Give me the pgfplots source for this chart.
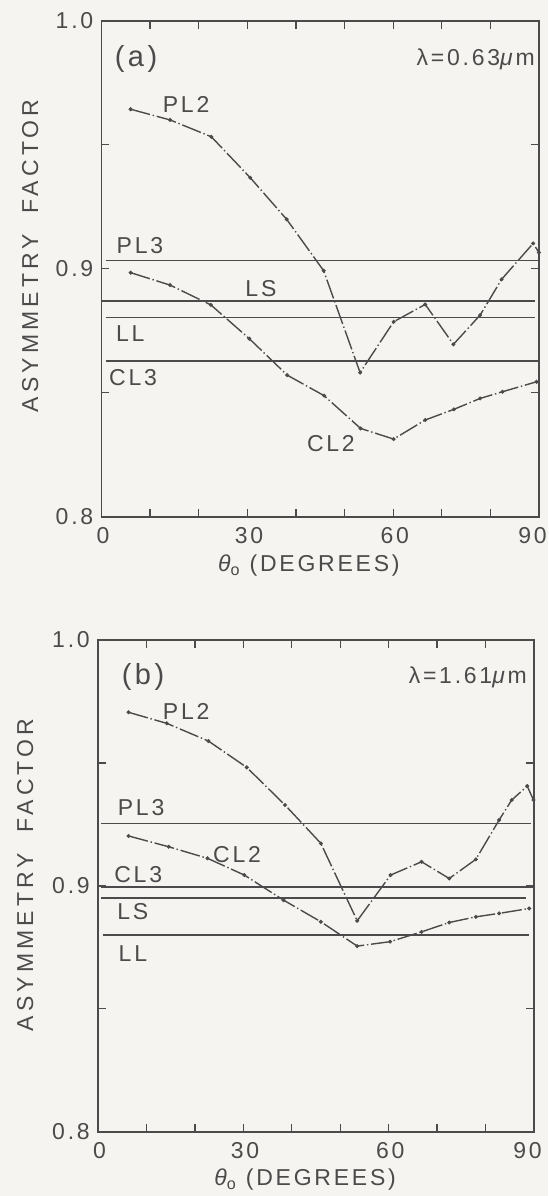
\documentclass[border=0pt]{standalone}
\usepackage{fontspec}
\setmainfont{Liberation Sans}[LetterSpace=12]
\usepackage{pgfplots}
\usepackage{pgfplotstable}
\pgfplotsset{compat=1.18}
\definecolor{ink}{RGB}{75,75,75}
\definecolor{paper}{RGB}{245,244,240}
\newcommand\pf{\fontsize{11.5}{13.8}\selectfont}
\newcommand\pfb{\fontsize{14.5}{17}\selectfont}

% ---- panel (a), lambda = 0.63 um ----
\pgfplotstableread{
x y
6.0 0.9643
14.1 0.9600
22.6 0.9532
30.6 0.9367
38.1 0.9199
45.7 0.8992
53.2 0.8581
60.1 0.8786
66.6 0.8856
72.4 0.8695
77.9 0.8813
82.3 0.8957
88.8 0.9102
90.0 0.9065
}\PLtwoA
\pgfplotstableread{
x y
6.0 0.8984
14.1 0.8934
22.5 0.8854
30.4 0.8718
38.2 0.8571
45.8 0.8488
53.3 0.8356
60.1 0.8313
66.6 0.8390
72.5 0.8433
77.9 0.8477
82.5 0.8504
89.5 0.8544
}\CLtwoA
% ---- panel (b), lambda = 1.61 um ----
\pgfplotstableread{
x y
6.3 0.9706
14.2 0.9661
22.8 0.9589
30.7 0.9482
38.6 0.9329
46.0 0.9173
53.5 0.8858
60.4 0.9044
66.8 0.9098
72.5 0.9030
78.0 0.9108
82.8 0.9268
85.4 0.9349
88.6 0.9406
89.9 0.9349
}\PLtwoB
\pgfplotstableread{
x y
6.3 0.9203
14.6 0.9159
22.6 0.9112
30.2 0.9044
38.3 0.8942
46.0 0.8854
53.5 0.8755
60.3 0.8773
66.8 0.8813
72.5 0.8851
78.0 0.8874
82.8 0.8888
89.0 0.8908
}\CLtwoB

\pgfplotsset{
  asym/.style={
    scale only axis, clip=false,
    xmin=0, xmax=90, ymin=0.8, ymax=1.0,
    xtick={0,10,...,90}, xticklabels={0,,,30,,,60,,,\kern-8pt 90},
    ytick={0.8,0.85,0.9,0.95,1.0}, yticklabels={0.8,,0.9,,1.0},
    xtick pos=both, ytick pos=both,
    xticklabel pos=lower, yticklabel pos=left,
    tick align=inside, major tick length=4pt,
    axis line style={ink, line width=0.85pt},
    every tick/.style={ink, line width=0.65pt},
    ticklabel style={font=\pf, text=ink},
    xticklabel style={yshift=-2pt, xshift=0.8pt},
    yticklabel style={xshift=-0.6pt},
    label style={font=\pf, text=ink},
    ylabel={\addfontfeature{LetterSpace=18}ASYMMETRY\hspace{0.9em}FACTOR},
    xlabel={{\itshape θ}\textsubscript{o} (DEGREES)},
  },
  hline/.style={ink, line width=0.7pt},
  curve/.style={ink, line width=0.7pt, dash pattern=on 10pt off 1.4pt on 0.7pt off 1.4pt},
  dots/.style={only marks, mark=*, mark size=0.8pt, ink},
}
\tikzset{lab/.style={font=\pf, text=ink, inner sep=0pt}}

\begin{document}
\begin{tikzpicture}
\fill[paper] (0,0) rectangle (274pt,-598pt);
\useasboundingbox (0,0) rectangle (274pt,-598pt);

\begin{axis}[asym,
  at={(50.75pt,-258.35pt)}, anchor=south west,
  width=218.75pt, height=248pt,
  ylabel style={at={(axis description cs:-0.163,0.526)}, anchor=center},
  xlabel style={at={(axis description cs:0.474,-0.099)}, anchor=center},
]
\addplot[hline] coordinates {(0.9,0.9032) (90,0.9032)};
\addplot[hline] coordinates {(0,0.8870) (89.2,0.8870)};
\addplot[hline] coordinates {(0.9,0.8804) (89.2,0.8804)};
\addplot[hline] coordinates {(0.9,0.8628) (90,0.8628)};
\addplot[curve] table {\PLtwoA};
\addplot[dots] table {\PLtwoA};
\addplot[curve] table {\CLtwoA};
\addplot[dots] table {\CLtwoA};
\node[lab, font=\pfb] at (axis cs:7.1,0.9844) {(a)};
\node[lab, anchor=east] at (axis cs:89.2,0.9846) {λ=0.63\textit{μ}m};
\node[lab] at (axis cs:17.4,0.9664) {PL2};
\node[lab] at (axis cs:7.9,0.9092) {PL3};
\node[lab] at (axis cs:32.8,0.8918) {LS};
\node[lab] at (axis cs:5.9,0.8740) {LL};
\node[lab] at (axis cs:6.5,0.8560) {CL3};
\node[lab] at (axis cs:47.2,0.8293) {CL2};
\end{axis}

\begin{axis}[asym,
  at={(49pt,-565.85pt)}, anchor=south west,
  width=218pt, height=245.85pt,
  ylabel style={at={(axis description cs:-0.167,0.522)}, anchor=center},
  xlabel style={at={(axis description cs:0.475,-0.098)}, anchor=center},
]
\addplot[hline] coordinates {(0.7,0.9254) (89.4,0.9254)};
\addplot[hline] coordinates {(0.7,0.8995) (90,0.8995)};
\addplot[hline] coordinates {(0.7,0.8950) (88.4,0.8950)};
\addplot[hline] coordinates {(1.0,0.8800) (89.0,0.8800)};
\addplot[curve] table {\PLtwoB};
\addplot[dots] table {\PLtwoB};
\addplot[curve] table {\CLtwoB};
\addplot[dots] table {\CLtwoB};
\node[lab, font=\pfb] at (axis cs:9.3,0.9850) {(b)};
\node[lab, anchor=east] at (axis cs:88.6,0.9850) {λ=1.61\textit{μ}m};
\node[lab] at (axis cs:18.2,0.9711) {PL2};
\node[lab] at (axis cs:8.9,0.9320) {PL3};
\node[lab] at (axis cs:28.7,0.9129) {CL2};
\node[lab] at (axis cs:8.3,0.9044) {CL3};
\node[lab] at (axis cs:7.2,0.8897) {LS};
\node[lab] at (axis cs:7.2,0.8723) {LL};
\end{axis}
\end{tikzpicture}
\end{document}
